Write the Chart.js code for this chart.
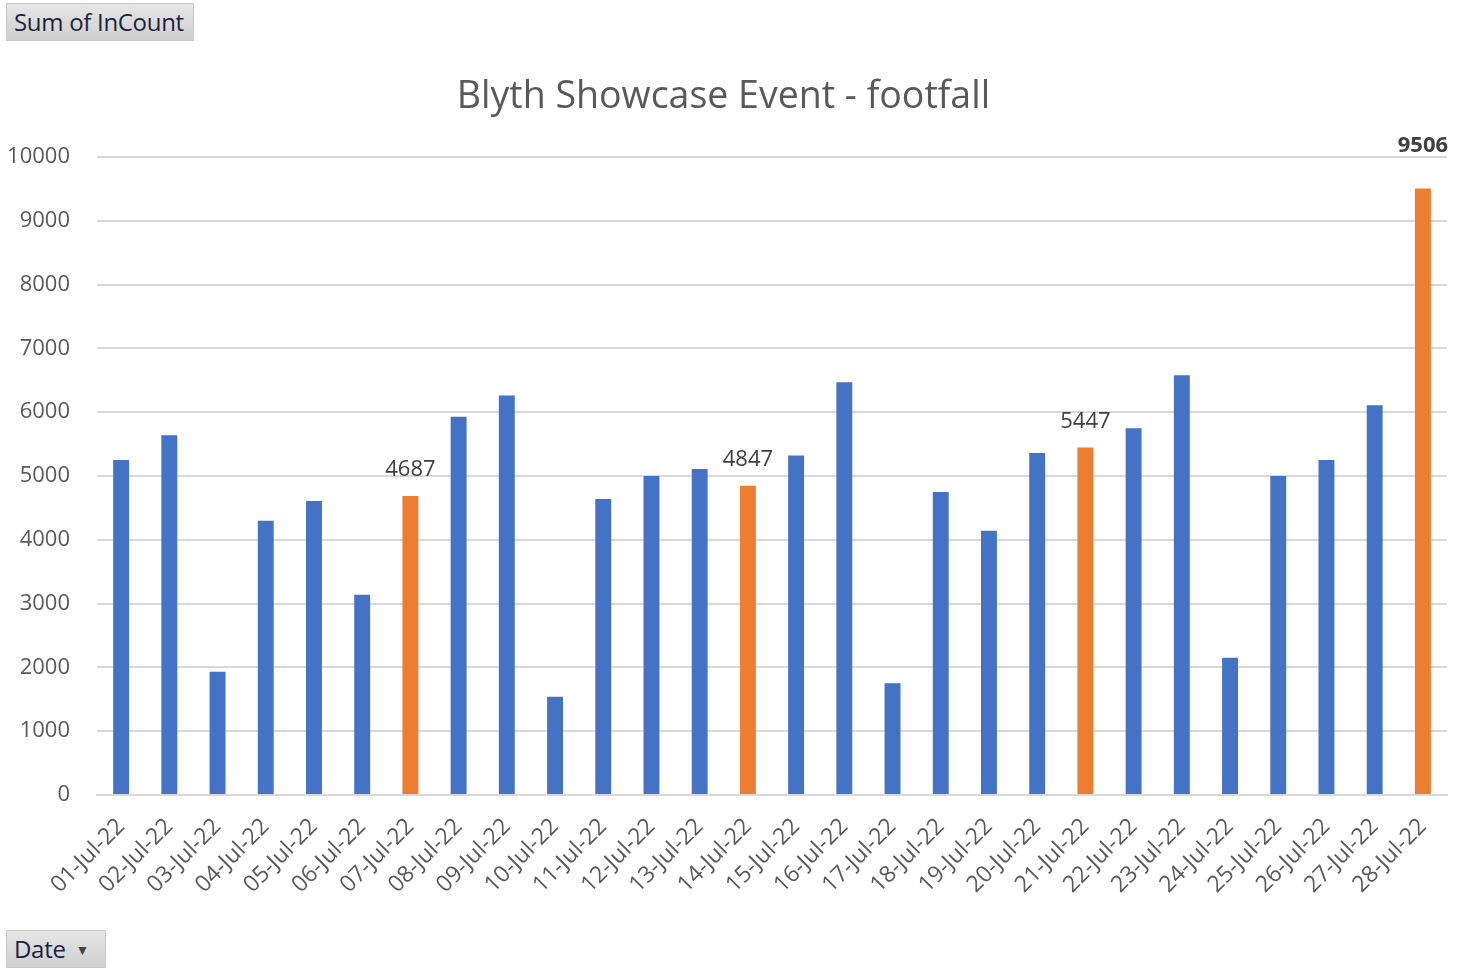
<!DOCTYPE html>
<html>
<head>
<meta charset="utf-8">
<script src="https://cdn.jsdelivr.net/npm/chart.js@4.4.1/dist/chart.umd.min.js"></script>
<style>
    body { margin: 0; background: #fff; font-family: "Open Sans", "Noto Sans", sans-serif; }
    #wrap { position: relative; width: 1478px; height: 976px; }
    .pivot-btn {
        position: absolute;
        background: linear-gradient(#e6e6e6, #cfcfcf);
        border: 1px solid #c8c8c8;
        color: #1f1f3f;
        font-size: 24px;
        line-height: 36px;
        padding: 0 7px;
        box-sizing: border-box;
        height: 38px;
        letter-spacing: -0.3px;
    }
    #btnSum { left: 6px; top: 3px; width: 188px; }
    #btnDate { left: 6px; top: 930px; width: 100px; }
    #btnDate .arrow { font-size: 14px; color: #444; margin-left: 10px; vertical-align: 3px; }
</style>
</head>
<body>
<div id="wrap">
    <canvas id="footfallChart" width="1478" height="976"></canvas>
    <div class="pivot-btn" id="btnSum">Sum of InCount</div>
    <div class="pivot-btn" id="btnDate">Date<span class="arrow">▼</span></div>
</div>
<script>
// Данные
const dates = ['01-Jul-22', '02-Jul-22', '03-Jul-22', '04-Jul-22', '05-Jul-22', '06-Jul-22', '07-Jul-22',
    '08-Jul-22', '09-Jul-22', '10-Jul-22', '11-Jul-22', '12-Jul-22', '13-Jul-22', '14-Jul-22',
    '15-Jul-22', '16-Jul-22', '17-Jul-22', '18-Jul-22', '19-Jul-22', '20-Jul-22', '21-Jul-22',
    '22-Jul-22', '23-Jul-22', '24-Jul-22', '25-Jul-22', '26-Jul-22', '27-Jul-22', '28-Jul-22'];
const inCount = [5250, 5640, 1930, 4300, 4610, 3140, 4687,
    5930, 6260, 1540, 4640, 5000, 5110, 4847,
    5320, 6470, 1750, 4750, 4140, 5360, 5447,
    5750, 6580, 2150, 5000, 5250, 6110, 9506];
// Выделенные дни (оранжевые столбцы с подписями)
const highlightDays = ['07-Jul-22', '14-Jul-22', '21-Jul-22', '28-Jul-22'];
const yTicks = [0, 1000, 2000, 3000, 4000, 5000, 6000, 7000, 8000, 9000, 10000];

const BLUE = '#4472c4';
const ORANGE = '#ed7d31';
const TEXT = '#595959';
const FONT = '"Open Sans", "Noto Sans", sans-serif';

// Подписи над выделенными столбцами
const highlightLabels = {
    id: 'highlightLabels',
    afterDatasetsDraw(chart) {
        const ctx = chart.ctx;
        const meta = chart.getDatasetMeta(0);
        const maxVal = Math.max(...inCount);
        ctx.save();
        ctx.textAlign = 'center';
        ctx.textBaseline = 'bottom';
        ctx.fillStyle = '#404040';
        dates.forEach((d, i) => {
            if (!highlightDays.includes(d)) return;
            const bar = meta.data[i];
            const isMax = inCount[i] === maxVal;
            ctx.font = (isMax ? 'bold ' : '') + '22px ' + FONT;
            ctx.fillText(String(inCount[i]), bar.x, bar.y - (isMax ? 32 : 15));
        });
        ctx.restore();
    }
};

const ctx = document.getElementById('footfallChart').getContext('2d');
new Chart(ctx, {
    type: 'bar',
    data: {
        labels: dates,
        datasets: [{
            label: 'Sum of InCount',
            data: inCount,
            backgroundColor: dates.map(d => highlightDays.includes(d) ? ORANGE : BLUE),
            barPercentage: 0.66,
            categoryPercentage: 0.5
        }]
    },
    options: {
        responsive: false,
        animation: false,
        layout: { padding: { left: 0, right: 31, top: 0, bottom: 0 } },
        plugins: {
            legend: { display: false },
            tooltip: { enabled: false },
            title: {
                display: true,
                text: 'Blyth Showcase Event - footfall',
                color: TEXT,
                font: { family: FONT, size: 37.5, weight: 'normal' },
                padding: { top: 75, bottom: 37 }
            }
        },
        scales: {
            x: {
                grid: { display: false },
                border: { color: '#d9d9d9', width: 2 },
                ticks: {
                    color: TEXT,
                    font: { family: FONT, size: 23 },
                    maxRotation: 45,
                    minRotation: 45,
                    autoSkip: false,
                    padding: 10
                },
                afterFit(scale) { scale.height = 181; }
            },
            y: {
                min: 0,
                max: 10000,
                afterBuildTicks(scale) { scale.ticks = yTicks.map(v => ({ value: v })); },
                grid: { color: '#d9d9d9', lineWidth: 2, drawTicks: false },
                border: { display: false },
                ticks: {
                    color: TEXT,
                    font: { family: FONT, size: 22 },
                    padding: 27,
                    callback: v => String(v)
                },
                afterFit(scale) { scale.width = 97; }
            }
        }
    },
    plugins: [highlightLabels]
});
</script>
</body>
</html>
